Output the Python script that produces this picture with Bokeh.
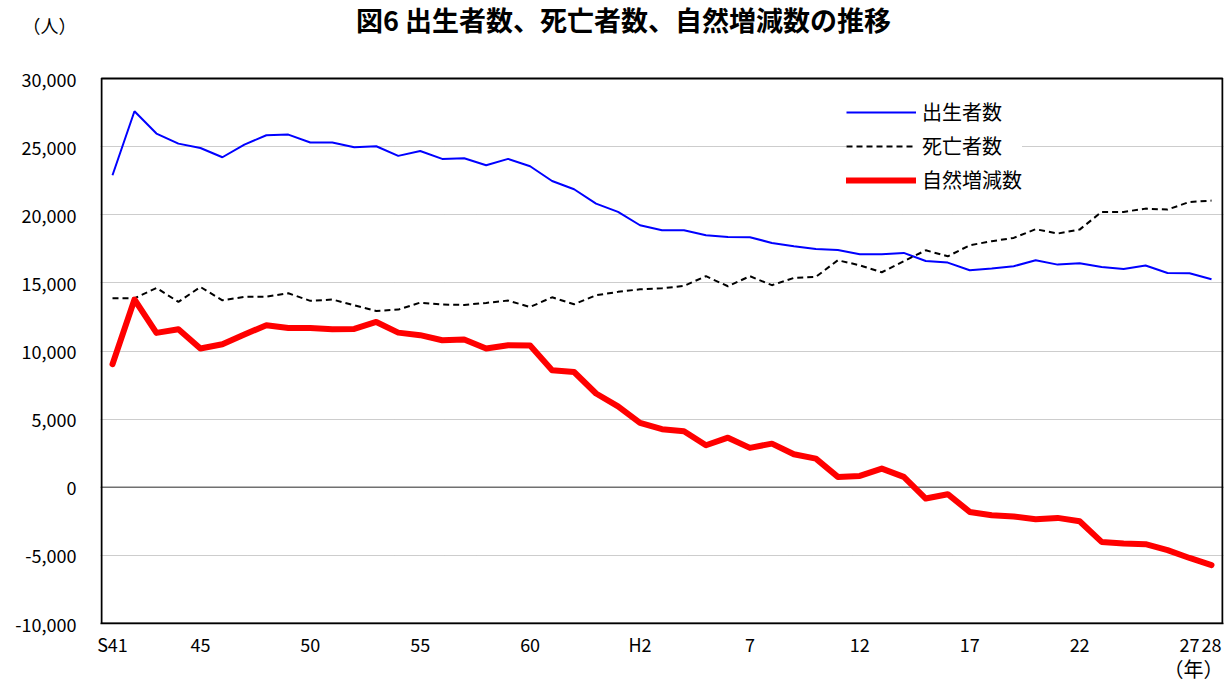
from bokeh.plotting import figure
from bokeh.models import (Range1d, FixedTicker, Span, Legend, LegendItem, Title, Label,
                          ColumnDataSource)
from bokeh.embed import file_html
from bokeh.resources import INLINE

# ---- data ----
years = ["S41", "S42", "S43", "S44", "S45", "S46", "S47", "S48", "S49", "S50",
         "S51", "S52", "S53", "S54", "S55", "S56", "S57", "S58", "S59", "S60",
         "S61", "S62", "S63", "H1", "H2", "H3", "H4", "H5", "H6", "H7",
         "H8", "H9", "H10", "H11", "H12", "H13", "H14", "H15", "H16", "H17",
         "H18", "H19", "H20", "H21", "H22", "H23", "H24", "H25", "H26", "H27", "H28"]
births = [22900, 27600, 25960, 25220, 24900, 24220, 25150, 25835, 25885, 25300,
          25300, 24950, 25030, 24320, 24680, 24100, 24150, 23630, 24100, 23560,
          22480, 21870, 20820, 20210, 19230, 18860, 18860, 18500, 18370, 18350,
          17930, 17690, 17490, 17420, 17100, 17100, 17200, 16610, 16490, 15930,
          16050, 16220, 16660, 16340, 16440, 16170, 16020, 16270, 15730, 15710, 15270]
deaths = [13870, 13870, 14630, 13600, 14700, 13720, 13970, 13990, 14240, 13680,
          13780, 13360, 12940, 13040, 13550, 13410, 13380, 13530, 13700, 13230,
          13940, 13430, 14090, 14340, 14530, 14600, 14780, 15490, 14750, 15490,
          14830, 15360, 15440, 16660, 16290, 15780, 16590, 17390, 16950, 17760,
          18060, 18300, 18940, 18620, 18910, 20210, 20210, 20450, 20380, 20940, 21040]
natural = [9030, 13780, 11330, 11600, 10180, 10500, 11210, 11890, 11690, 11690,
           11600, 11620, 12130, 11350, 11160, 10790, 10840, 10180, 10420, 10400,
           8590, 8460, 6880, 5940, 4720, 4260, 4110, 3080, 3640, 2890,
           3200, 2420, 2100, 760, 830, 1370, 760, -830, -510, -1810,
           -2050, -2150, -2350, -2250, -2500, -4010, -4130, -4180, -4620, -5190, -5720]
tick_years = ["S41", "S45", "S50", "S55", "S60", "H2", "H7", "H12", "H17", "H22", "H27", "H28"]
tick_labels = ["S41", "45", "50", "55", "60", "H2", "7", "12", "17", "22", "27", "28"]
y_ticks = [-10000, -5000, 0, 5000, 10000, 15000, 20000, 25000, 30000]
y_tick_labels = ["-10,000", "-5,000", "0", "5,000", "10,000", "15,000", "20,000", "25,000", "30,000"]
series_names = ["出生者数", "死亡者数", "自然増減数"]
title_text = "図6  出生者数、死亡者数、自然増減数の推移"
y_unit = "（人）"
x_unit = "（年）"

FONT = "Noto Sans CJK JP"

# ---- layout geometry (pixels) ----
W, H = 1226, 682
FRAME_L, FRAME_R_BORDER = 100, 3
PLOT_TOP_PX, PLOT_H_PX = 78, 545          # where 30,000 sits and the plot box height
PX_PAD = 1.0                               # frame reaches 1px beyond the drawn box
y_lo, y_hi = y_ticks[0], y_ticks[-1]
units_per_px = (y_hi - y_lo) / PLOT_H_PX
y_top = y_hi + PLOT_TOP_PX * units_per_px   # the frame extends up to the page top
n = len(years)
x_per_px = n / ((W - FRAME_R_BORDER - FRAME_L) - 2 * PX_PAD)
x_pad = PX_PAD * x_per_px
BOTTOM_BORDER = H - (PLOT_TOP_PX + PLOT_H_PX)


def y_at(px):
    return y_hi + (PLOT_TOP_PX - px) * units_per_px


def x_at(px):
    return -0.5 - x_pad + (px - FRAME_L) * x_per_px


idx = list(range(n))
src = ColumnDataSource(dict(x=idx, year=years, births=births, deaths=deaths, natural=natural))
tick_pos = [years.index(t) for t in tick_years]
y_unit_pos = 33900   # the unit label sits above the box, left of the frame

p = figure(width=W, height=H, output_backend="svg", toolbar_location=None,
           x_range=Range1d(-0.5 - x_pad, n - 0.5 + x_pad), y_range=Range1d(y_lo, y_top),
           min_border_left=FRAME_L, min_border_right=FRAME_R_BORDER, min_border_top=0,
           min_border_bottom=BOTTOM_BORDER)
p.background_fill_color = "white"
p.border_fill_color = "white"
p.outline_line_color = None

p.xgrid.grid_line_color = None
p.ygrid.ticker = FixedTicker(ticks=y_ticks)
p.ygrid.grid_line_color = "#9a9a9a"
p.ygrid.grid_line_dash = "1 1"
p.ygrid.grid_line_width = 1

# y axis (the unit label is an extra tick label at the top)
p.yaxis.ticker = FixedTicker(ticks=y_ticks + [y_unit_pos])
p.yaxis.major_label_overrides = {**{t: s for t, s in zip(y_ticks, y_tick_labels)}, y_unit_pos: y_unit}
p.yaxis.major_label_text_font = FONT
p.yaxis.major_label_text_font_size = "18px"
p.yaxis.major_label_text_color = "black"
p.yaxis.major_label_standoff = 24
p.yaxis.major_tick_in = 0
p.yaxis.major_tick_out = 0
p.yaxis.minor_tick_line_color = None
p.yaxis.axis_line_color = None

# x axis
p.xaxis.ticker = FixedTicker(ticks=tick_pos)
p.xaxis.major_label_overrides = {pos: lab for pos, lab in zip(tick_pos, tick_labels)}
p.xaxis.major_label_text_font = FONT
p.xaxis.major_label_text_font_size = "18px"
p.xaxis.major_label_text_color = "black"
p.xaxis.major_label_standoff = 7
p.xaxis.major_tick_in = 0
p.xaxis.major_tick_out = 0
p.xaxis.minor_tick_line_color = None
p.xaxis.axis_line_color = "black"
p.xaxis.axis_line_width = 1.5

# the plot box
p.quad(left=[-0.5], right=[n - 0.5], bottom=[y_lo], top=[y_hi],
       fill_color=None, line_color="black", line_width=2)

# zero line
p.add_layout(Span(location=0, dimension="width", line_color="#707070",
                  line_width=1.5, level="underlay"))

r1 = p.line("x", "births", source=src, line_color="#0000FF", line_width=2)
r2 = p.line("x", "deaths", source=src, line_color="black", line_width=2, line_dash="6 4")
r3 = p.line("x", "natural", source=src, line_color="#FF0000", line_width=6,
            line_join="round", line_cap="round")

legend = Legend(items=[LegendItem(label=series_names[0], renderers=[r1]),
                       LegendItem(label=series_names[1], renderers=[r2]),
                       LegendItem(label=series_names[2], renderers=[r3])],
                location=(746, 429), glyph_width=70, glyph_height=20, label_height=20,
                spacing=5, padding=10, label_standoff=6, border_line_color=None,
                background_fill_color="white", background_fill_alpha=1,
                label_text_font=FONT, label_text_font_size="20px", label_text_color="black")
p.add_layout(legend)

# chart title (inside the frame's upper strip)
p.add_layout(Label(x=x_at(626), y=y_at(19), text=title_text, text_align="center",
                   text_baseline="middle", text_font=FONT, text_font_size="27px",
                   text_font_style="bold", text_color="black"))

# x unit below the axis
t_x = Title(text=x_unit, align="right", offset=0, text_font=FONT, text_font_size="20px",
            text_font_style="normal", text_color="black", vertical_align="top")
try:
    t_x.standoff = -12
except Exception:
    t_x.standoff = 0
p.add_layout(t_x, "below")

open("out.html", "w").write(file_html(p, INLINE))
